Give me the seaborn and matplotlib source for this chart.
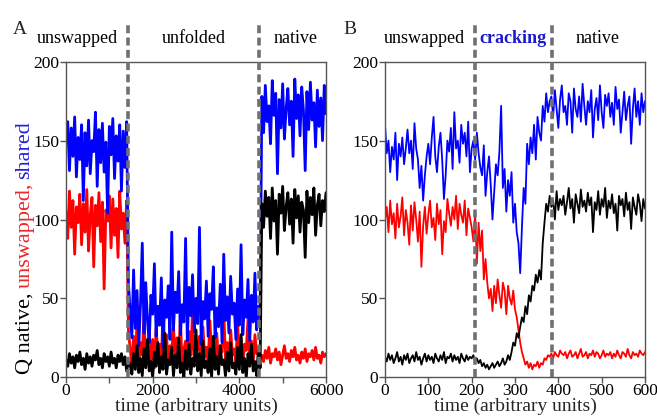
import numpy as np
import pandas as pd
import matplotlib
matplotlib.use("Agg")
import matplotlib.pyplot as plt
import seaborn as sns

# ---------------- panel A (one sample every 40 time units) ----------------
a_step = 40
a_shared = ([148, 162, 131, 158, 140, 165, 127, 152, 138, 160, 112, 155, 134, 163, 129, 150, 143, 168,
             121, 157, 136, 161, 130, 149, 104, 159, 141, 164, 126, 153, 137, 160, 118, 156, 133, 162]
            + [60]
            + [42, 25, 68, 31, 55, 20, 47, 85, 28, 60, 36, 22, 52, 40, 72, 26, 45, 33, 63, 19,
               49, 38, 58, 24, 92, 30, 54, 41, 67, 27, 46, 35, 88, 23, 57, 39, 65, 29, 50, 34,
               95, 21, 48, 37, 61, 26, 53, 43, 70, 25, 44, 32, 59, 22, 78, 36, 51, 28, 64, 40,
               47, 24, 56, 33, 84, 27, 49, 38, 62, 23, 52, 35, 66, 30, 45, 41]
            + [178, 155, 185, 162, 172, 148, 188, 166, 180, 129, 176, 158, 186, 151, 170, 183, 160, 175,
               140, 189, 164, 179, 153, 184, 169, 131, 181, 157, 187, 163, 174, 146, 182, 159, 177, 150,
               185, 167])
a_unswapped = ([105, 88, 118, 95, 112, 78, 108, 98, 116, 84, 110, 92, 119, 80, 103, 114, 70, 109,
                96, 117, 86, 111, 56, 106, 99, 115, 82, 113, 90, 107, 76, 118, 94, 104, 85, 112]
               + [30]
               + [18, 8, 26, 12, 35, 9, 22, 14, 40, 7, 19, 28, 11, 24, 6, 31, 15, 21, 10, 44,
                  13, 27, 8, 20, 16, 33, 9, 25, 12, 38, 7, 18, 23, 11, 29, 14, 42, 10, 21, 17,
                  26, 8, 32, 13, 19, 9, 36, 15, 24, 11, 28, 7, 20, 16, 43, 12, 22, 9, 30, 14,
                  18, 10, 34, 13, 25, 8, 21, 17, 37, 11, 23, 9, 27, 15, 19, 12]
               + [14, 10, 17, 12, 19, 9, 15, 13, 18, 11, 16, 8, 14, 20, 12, 15, 10, 17, 13, 19,
                  11, 14, 9, 16, 12, 18, 10, 15, 13, 17, 11, 19, 12, 14, 9, 16, 13, 15])
a_native = ([11, 7, 15, 9, 13, 6, 14, 10, 16, 8, 12, 5, 15, 9, 13, 7, 14, 11, 17, 8,
             12, 6, 15, 10, 13, 7, 16, 9, 12, 6, 14, 10, 15, 8, 13, 4]
            + [10]
            + [8, 2, 15, 5, 20, 3, 12, 1, 18, 6, 24, 4, 10, 0, 16, 7, 22, 3, 13, 5,
               28, 2, 11, 8, 19, 1, 14, 6, 25, 3, 9, 0, 17, 5, 21, 2, 12, 7, 30, 4,
               15, 1, 23, 6, 10, 3, 18, 0, 26, 5, 13, 2, 20, 8, 11, 1, 16, 4, 22, 6,
               9, 2, 19, 5, 27, 3, 12, 0, 15, 7, 21, 4, 10, 1, 18, 6]
            + [110, 95, 118, 102, 114, 88, 120, 99, 112, 78, 116, 104, 121, 93, 108, 117, 97, 113,
               85, 119, 101, 115, 92, 111, 106, 76, 118, 98, 114, 103, 120, 90, 109, 116, 96, 112,
               105, 117])
a_borders = [1440, 4460]
a_phases = ["unswapped", "unfolded", "native"]
a_phase_x = [265, 2940, 5300]

# ---------------- panel B (one sample every 4 time units) ----------------
b_step = 4
b_shared = [160, 142, 150, 130, 146, 138, 155, 125, 148, 140, 152, 135, 145,
            157, 142, 150, 132, 161, 145, 138, 120, 134, 112, 128, 140, 148,
            135, 152, 165, 140, 130, 146, 155, 138, 113, 128, 150, 143, 158,
            132, 168, 145, 150, 136, 160, 148, 155, 140, 162, 130, 145,
            150, 138, 155, 142, 133, 128, 147, 115, 130, 140, 122, 100, 118,
            135, 128, 143, 172, 120, 132, 105, 125, 115, 130, 98, 110, 92,
            85, 66, 95, 120, 110, 148, 135, 152, 142, 160, 138, 165, 155,
            150, 172, 162, 180, 168, 175, 178, 165, 182, 170, 158, 176, 185,
            168, 172, 160, 180, 175, 155, 183, 170, 165, 178, 162, 186, 172,
            160, 175, 168, 182, 152, 170, 177, 163, 185, 168, 158, 179, 172,
            180, 165, 174, 160, 184, 170, 176, 155, 168, 181, 163, 172, 178,
            148, 170, 183, 165, 175, 160, 180, 168, 175]
b_unswapped = [100, 108, 92, 112, 97, 104, 88, 110, 95, 102, 114, 90, 106,
               98, 84, 109, 93, 111, 100, 86, 105, 70, 96, 108, 91, 103,
               112, 95, 101, 87, 110, 97, 106, 78, 99, 92, 113, 104, 96,
               108, 100, 115, 94, 110, 103, 98, 112, 90, 107, 101, 95,
               86, 104, 72, 98, 80, 93, 62, 75, 60, 50, 56, 42, 58,
               47, 62, 52, 44, 60, 55, 40, 58, 50, 46, 55, 43, 38,
               30, 22, 16, 12, 8, 10, 6, 9, 5, 8, 7, 10, 6,
               9, 8, 12, 11, 14, 13, 15, 12, 16, 14, 13, 17, 15,
               14, 16, 12, 15, 17, 13, 14, 16, 12, 15, 18, 13, 14,
               16, 12, 15, 14, 17, 13, 16, 15, 12, 14, 17, 13, 15,
               14, 16, 12, 15, 13, 17, 14, 12, 16, 15, 13, 18, 14,
               12, 16, 14, 15, 13, 17, 15, 14, 16]
b_native = [13, 10, 15, 11, 14, 9, 12, 16, 10, 13, 8, 14, 11,
            15, 9, 12, 14, 10, 16, 11, 13, 8, 12, 15, 10, 14,
            11, 13, 9, 15, 12, 10, 14, 11, 16, 9, 13, 12, 15,
            10, 14, 11, 13, 9, 15, 12, 10, 14, 11, 13, 12,
            14, 10, 12, 9, 11, 7, 9, 6, 8, 5, 7, 9, 6,
            8, 10, 7, 9, 12, 8, 10, 14, 11, 16, 22, 20, 28,
            25, 32, 38, 35, 45, 40, 52, 48, 58, 55, 65, 60, 68,
            62, 85, 98, 110, 105, 115, 108, 112, 100, 118, 106, 113, 109,
            115, 103, 111, 120, 107, 113, 98, 116, 110, 104, 119, 108, 112,
            105, 117, 109, 114, 92, 111, 106, 118, 103, 113, 108, 120, 101,
            112, 107, 116, 104, 110, 93, 115, 109, 113, 102, 117, 106, 111,
            94, 114, 108, 103, 116, 110, 99, 113, 107]
b_borders = [207, 385]
b_phases = ["unswapped", "cracking", "native"]
b_phase_x = [91, 295, 490]

RED = "#ff0000"
BLUE = "#0000ff"

sns.set_theme(style="ticks")
plt.rcParams["font.family"] = ["Liberation Serif", "DejaVu Serif"]

fig = plt.figure(figsize=(6.57, 4.18), dpi=100)
W, H = 657, 418
ax_a = fig.add_axes([66 / W, (H - 377.3) / H, 260 / W, 315.6 / H])
ax_b = fig.add_axes([385 / W, (H - 377.3) / H, 260 / W, 315.6 / H])


def draw_panel(ax, step, shared, unswapped, native, lw):
    for vals, col in [(unswapped, RED), (shared, BLUE), (native, "black")]:
        t = np.arange(len(vals)) * step
        sns.lineplot(x=t, y=vals, color=col, lw=lw, ax=ax, estimator=None)
    ax.set_ylim(0, 200)
    ax.set_yticks([0, 50, 100, 150, 200])
    ax.set_xlabel("time (arbitrary units)", fontsize=14, labelpad=-1)
    ax.set_ylabel("")
    for s in ax.spines.values():
        s.set_color("#555555")
        s.set_linewidth(1.0)
    ax.tick_params(direction="out", length=4, width=1, color="#555555",
                   labelsize=12.5, labelcolor="black")
    ax.tick_params(axis="x", pad=0)
    ax.tick_params(axis="y", pad=1)


def draw_borders(ax, borders, phases, phase_x):
    for b in borders:
        ax.axvline(b, ymin=0, ymax=1.126, clip_on=False, color="#707070",
                   lw=2.6, dashes=(2.2, 1.2), zorder=5)
    trans = ax.get_xaxis_transform()
    for name, x in zip(phases, phase_x):
        if name == "cracking":
            ax.text(x, 1.073, name, transform=trans, ha="center", va="center",
                    fontsize=13, color="#1a1acc", fontweight="bold")
        else:
            ax.text(x, 1.073, name, transform=trans, ha="center", va="center",
                    fontsize=13, color="black")


draw_panel(ax_a, a_step, a_shared, a_unswapped, a_native, 2.0)
ax_a.set_xlim(0, 6000)
ax_a.set_xticks(range(0, 6001, 1000))
ax_a.set_xticklabels(["0", "", "2000", "", "4000", "", "6000"])
draw_borders(ax_a, a_borders, a_phases, a_phase_x)

draw_panel(ax_b, b_step, b_shared, b_unswapped, b_native, 1.3)
ax_b.set_xlim(0, 600)
ax_b.set_xticks(range(0, 601, 100))
draw_borders(ax_b, b_borders, b_phases, b_phase_x)

fig.text(20 / W, 1 - 29 / H, "A", fontsize=14, ha="center", va="center")
fig.text(350 / W, 1 - 29 / H, "B", fontsize=14, ha="center", va="center")

# multi-coloured y label, stacked bottom to top
fig.canvas.draw()
renderer = fig.canvas.get_renderer()
y_px = 44
for part, col in [("Q native,", "black"), ("unswapped,", "#e8282b"), ("shared", "#2020e0")]:
    txt = fig.text(25 / W, y_px / H, part, rotation=90, ha="center", va="bottom",
                   color=col, fontsize=16)
    bb = txt.get_window_extent(renderer)
    y_px = bb.y1 + 4

fig.savefig("out.png", dpi=100)
